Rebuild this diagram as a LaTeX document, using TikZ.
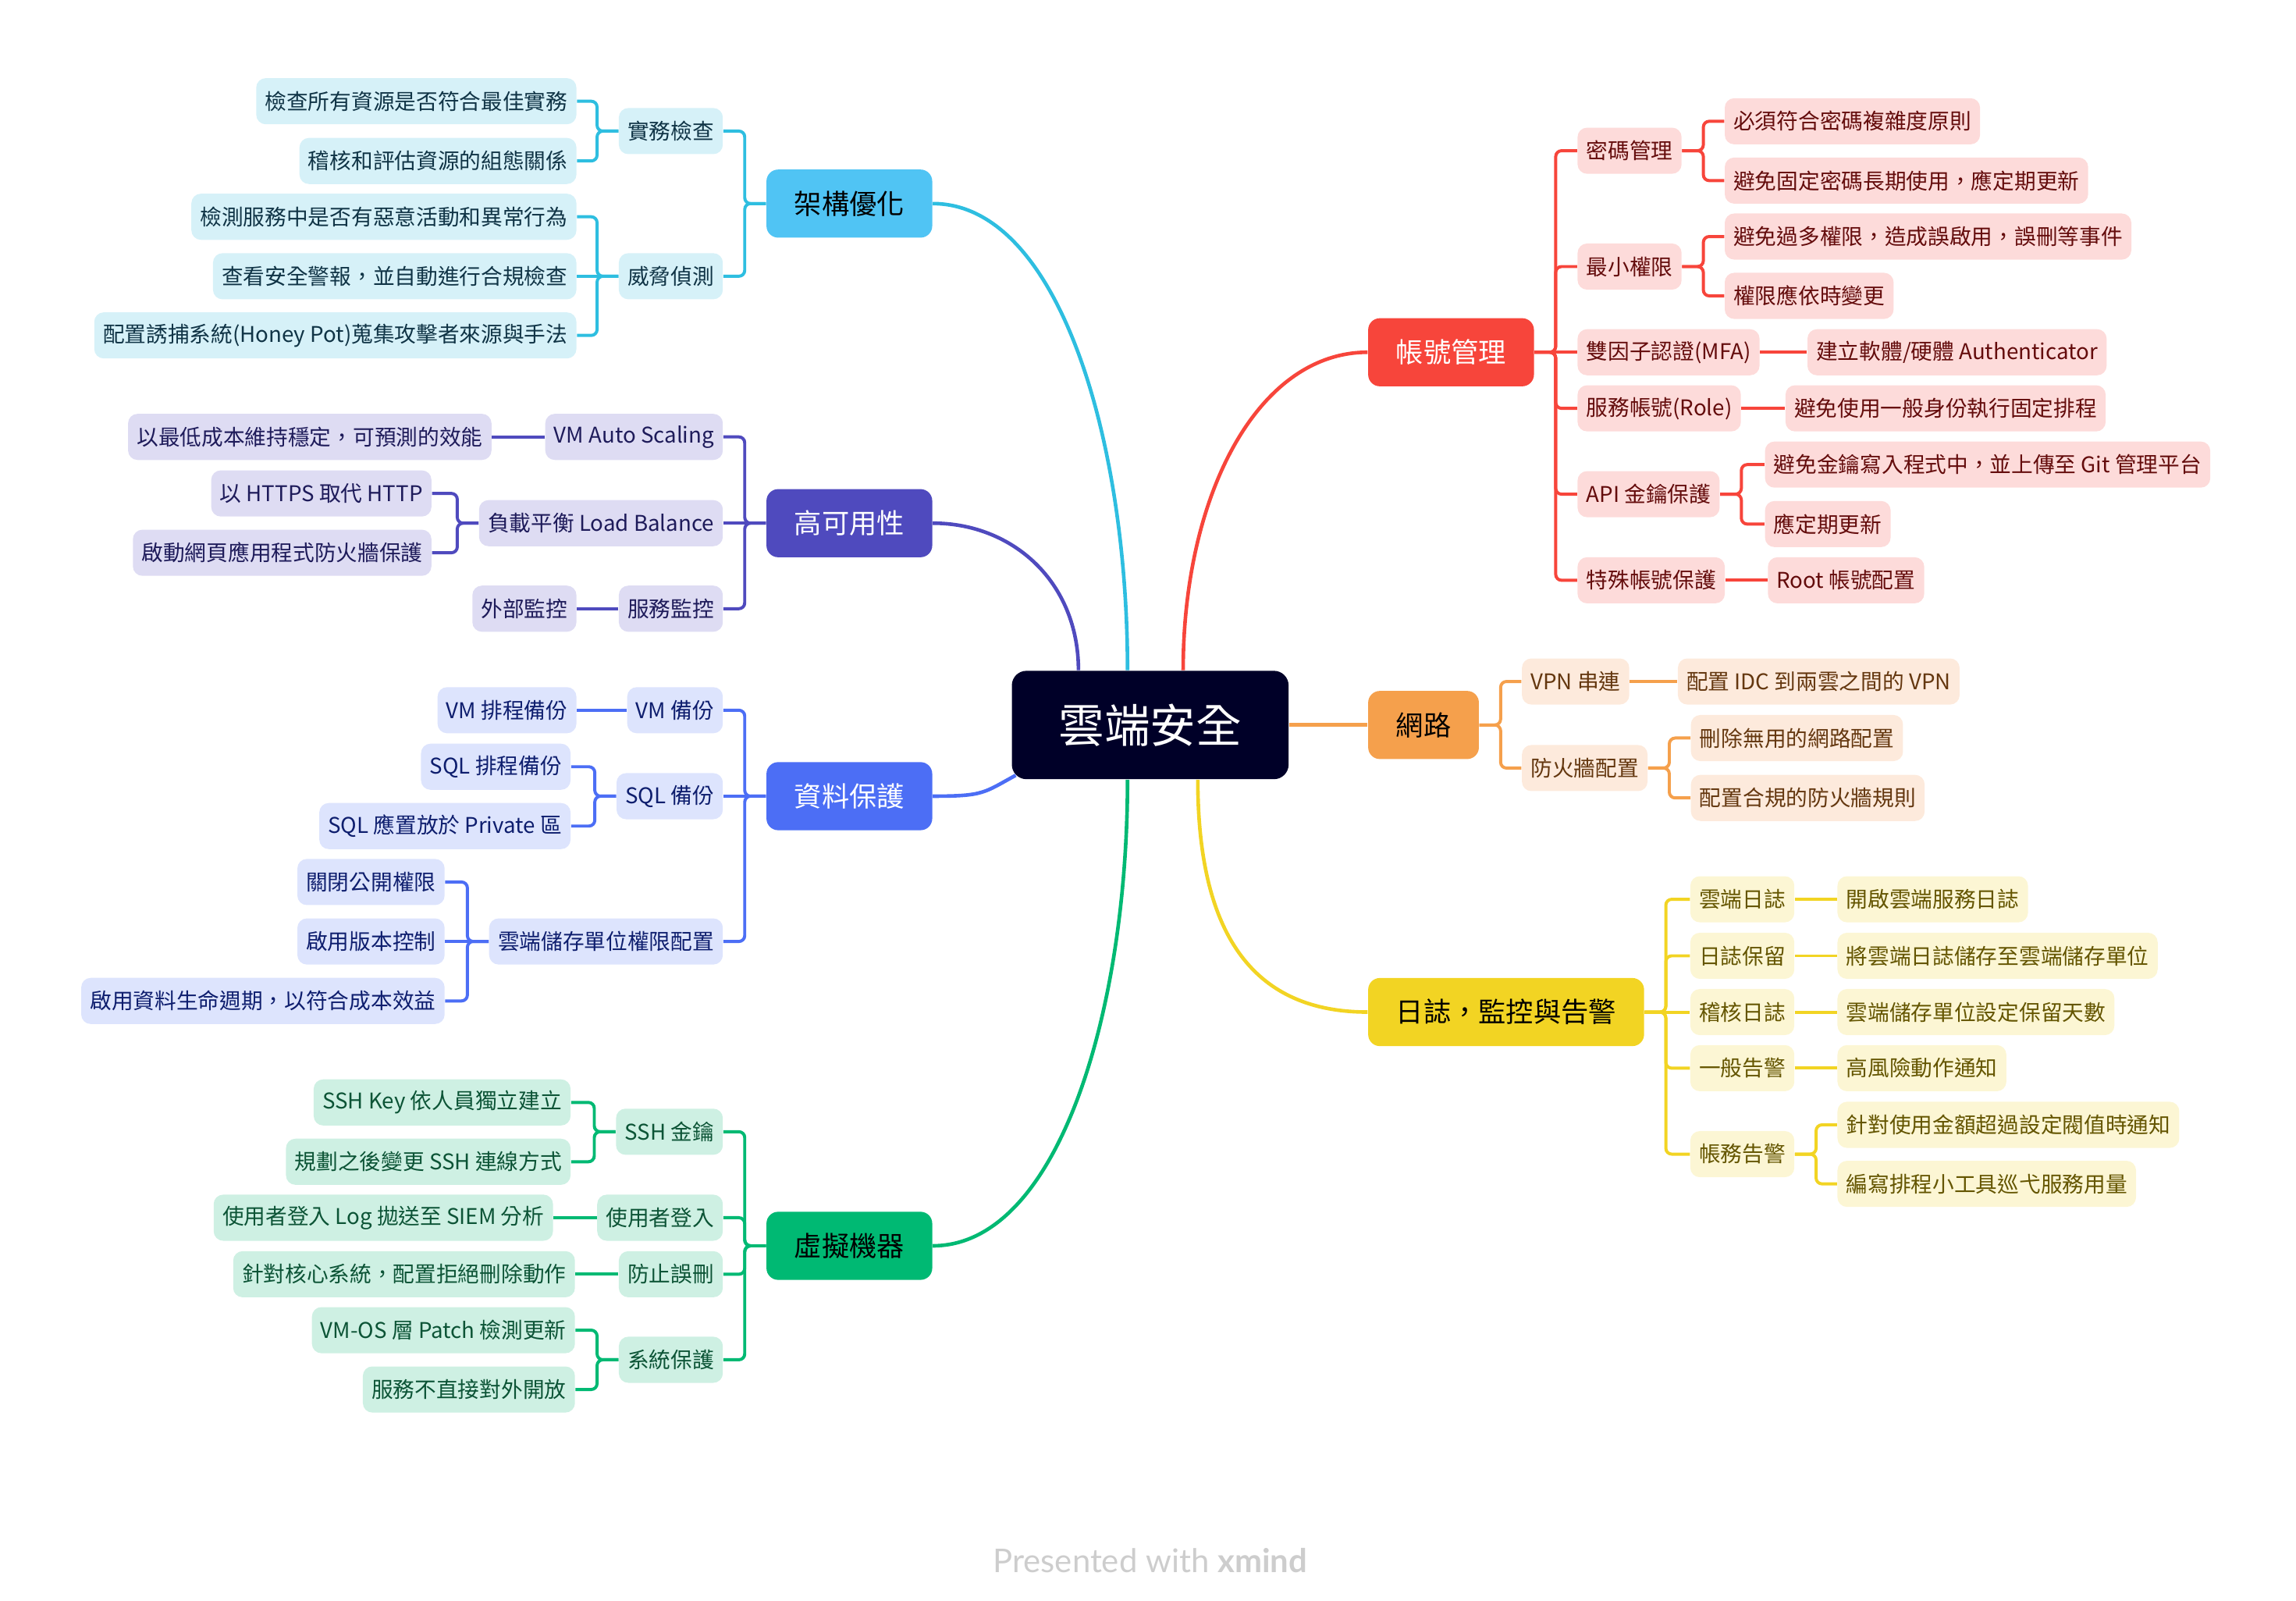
\documentclass[tikz,border=0pt]{standalone}
\usepackage{fontspec}
\setmainfont{Noto Sans CJK TC}
\newfontfamily\footfont{Lato}
\definecolor{rootC}{RGB}{0,0,40}
\definecolor{jgC}{RGB}{80,196,244}
\definecolor{jgK}{RGB}{46,190,224}
\definecolor{jgL}{RGB}{214,241,248}
\definecolor{jgT}{RGB}{16,52,70}
\definecolor{gkC}{RGB}{79,74,190}
\definecolor{gkL}{RGB}{222,220,243}
\definecolor{gkT}{RGB}{30,27,90}
\definecolor{zbC}{RGB}{76,110,245}
\definecolor{zbL}{RGB}{221,228,253}
\definecolor{zbT}{RGB}{14,30,110}
\definecolor{xnC}{RGB}{0,185,115}
\definecolor{xnL}{RGB}{206,240,227}
\definecolor{xnT}{RGB}{12,84,54}
\definecolor{zhC}{RGB}{247,69,59}
\definecolor{zhL}{RGB}{253,219,218}
\definecolor{zhT}{RGB}{100,12,12}
\definecolor{wlC}{RGB}{245,160,76}
\definecolor{wlL}{RGB}{253,234,220}
\definecolor{wlT}{RGB}{100,55,15}
\definecolor{rzC}{RGB}{242,212,35}
\definecolor{rzL}{RGB}{252,246,212}
\definecolor{rzT}{RGB}{100,85,0}
\definecolor{footC}{RGB}{205,205,205}
\usetikzlibrary{positioning}

\tikzset{
  root/.style={fill=rootC,text=white,rounded corners=2mm,minimum width=37.8mm,minimum height=14.8mm,font=\fontsize{17.8}{20}\selectfont},
  topic/.style={rounded corners=1.6mm,minimum height=9.3mm,inner xsep=3.8mm,inner ysep=0pt,font=\fontsize{10.7}{12}\selectfont},
  item/.style={rounded corners=1.3mm,minimum height=6.3mm,inner xsep=1.2mm,inner ysep=0pt,font=\fontsize{8.4}{10}\selectfont},
  link/.style={line width=1.2pt,rounded corners=0.8mm},
  curve/.style={line width=1.4pt},
  jgbox/.style={item,fill=jgL,text=jgT,anchor=east},
  gkbox/.style={item,fill=gkL,text=gkT,anchor=east},
  zbbox/.style={item,fill=zbL,text=zbT,anchor=east},
  xnbox/.style={item,fill=xnL,text=xnT,anchor=east},
  zhbox/.style={item,fill=zhL,text=zhT,anchor=west},
  wlbox/.style={item,fill=wlL,text=wlT,anchor=west},
  rzbox/.style={item,fill=rzL,text=rzT,anchor=west},
}

\begin{document}
\begin{tikzpicture}[x=0.2mm,y=-0.2mm]
  \useasboundingbox (0,0) rectangle (1568,1092.6);

  \node[root] (yun) at (785.5,495) {雲端安全};

  % left topics
  \node[topic,fill=jgC,text=black,anchor=east] (jg) at (637,139) {架構優化};
  \node[topic,fill=gkC,text=white,anchor=east] (gk) at (637,357.2) {高可用性};
  \node[topic,fill=zbC,text=white,anchor=east] (zb) at (637,543.6) {資料保護};
  \node[topic,fill=xnC,text=black,anchor=east] (xn) at (637,850.6) {虛擬機器};

  % right topics
  \node[topic,fill=zhC,text=white,anchor=west] (zh) at (934,240.5) {帳號管理};
  \node[topic,fill=wlC,text=black,anchor=west] (wl) at (934,495) {網路};
  \node[topic,fill=rzC,text=black,anchor=west] (rz) at (934,691) {日誌，監控與告警};

  % 架構優化
  \node[jgbox] (jg1) at (494,89.5) {實務檢查};
  \node[jgbox] (jg1a) at (394,69.1) {檢查所有資源是否符合最佳實務};
  \node[jgbox] (jg1b) at (394,109.9) {稽核和評估資源的組態關係};
  \node[jgbox] (jg2) at (494,188.6) {威脅偵測};
  \node[jgbox] (jg2a) at (394,148) {檢測服務中是否有惡意活動和異常行為};
  \node[jgbox] (jg2b) at (394,188.6) {查看安全警報，並自動進行合規檢查};
  \node[jgbox] (jg2c) at (394,229) {配置誘捕系統(Honey Pot)蒐集攻擊者來源與手法};

  % 高可用性
  \node[gkbox] (gk1) at (494,298.3) {VM Auto Scaling};
  \node[gkbox] (gk1a) at (336,298.3) {以最低成本維持穩定，可預測的效能};
  \node[gkbox] (gk2) at (494,357.2) {負載平衡 Load Balance};
  \node[gkbox] (gk2a) at (295,336.9) {以 HTTPS 取代 HTTP};
  \node[gkbox] (gk2b) at (295,377.4) {啟動網頁應用程式防火牆保護};
  \node[gkbox] (gk3) at (494,415.6) {服務監控};
  \node[gkbox] (gk3a) at (394,415.6) {外部監控};

  % 資料保護
  \node[zbbox] (zb1) at (494,484.9) {VM 備份};
  \node[zbbox] (zb1a) at (394,484.9) {VM 排程備份};
  \node[zbbox] (zb2) at (494,543.6) {SQL 備份};
  \node[zbbox] (zb2a) at (390,523.5) {SQL 排程備份};
  \node[zbbox] (zb2b) at (390,564) {SQL 應置放於 Private 區};
  \node[zbbox] (zb3) at (494,642.8) {雲端儲存單位權限配置};
  \node[zbbox] (zb3a) at (304,602.2) {關閉公開權限};
  \node[zbbox] (zb3b) at (304,642.8) {啟用版本控制};
  \node[zbbox] (zb3c) at (304,683.4) {啟用資料生命週期，以符合成本效益};

  % 虛擬機器
  \node[xnbox] (xn1) at (494,772.7) {SSH 金鑰};
  \node[xnbox] (xn1a) at (390,752.7) {SSH Key 依人員獨立建立};
  \node[xnbox] (xn1b) at (390,793.2) {規劃之後變更 SSH 連線方式};
  \node[xnbox] (xn2) at (494,831.4) {使用者登入};
  \node[xnbox] (xn2a) at (378,831.4) {使用者登入 Log 拋送至 SIEM 分析};
  \node[xnbox] (xn3) at (494,870) {防止誤刪};
  \node[xnbox] (xn3a) at (393,870) {針對核心系統，配置拒絕刪除動作};
  \node[xnbox] (xn4) at (494,928.4) {系統保護};
  \node[xnbox] (xn4a) at (393,908.2) {VM-OS 層 Patch 檢測更新};
  \node[xnbox] (xn4b) at (393,948.7) {服務不直接對外開放};

  % 帳號管理
  \node[zhbox] (zh1) at (1077,102.9) {密碼管理};
  \node[zhbox] (zh1a) at (1177.5,82.8) {必須符合密碼複雜度原則};
  \node[zhbox] (zh1b) at (1177.5,123.3) {避免固定密碼長期使用，應定期更新};
  \node[zhbox] (zh2) at (1077,182) {最小權限};
  \node[zhbox] (zh2a) at (1177.5,161.5) {避免過多權限，造成誤啟用，誤刪等事件};
  \node[zhbox] (zh2b) at (1177.5,202) {權限應依時變更};
  \node[zhbox] (zh3) at (1077,240.5) {雙因子認證(MFA)};
  \node[zhbox] (zh3a) at (1234,240.5) {建立軟體/硬體 Authenticator};
  \node[zhbox] (zh4) at (1077,278.8) {服務帳號(Role)};
  \node[zhbox] (zh4a) at (1219,278.8) {避免使用一般身份執行固定排程};
  \node[zhbox] (zh5) at (1077,337.4) {API 金鑰保護};
  \node[zhbox] (zh5a) at (1205,317.2) {避免金鑰寫入程式中，並上傳至 Git 管理平台};
  \node[zhbox] (zh5b) at (1205,357.8) {應定期更新};
  \node[zhbox] (zh6) at (1077,396.2) {特殊帳號保護};
  \node[zhbox] (zh6a) at (1207,396.2) {Root 帳號配置};

  % 網路
  \node[wlbox] (wl1) at (1039,465.3) {VPN 串連};
  \node[wlbox] (wl1a) at (1145.5,465.3) {配置 IDC 到兩雲之間的 VPN};
  \node[wlbox] (wl2) at (1039,524.4) {防火牆配置};
  \node[wlbox] (wl2a) at (1154.4,503.9) {刪除無用的網路配置};
  \node[wlbox] (wl2b) at (1154.4,544.8) {配置合規的防火牆規則};

  % 日誌，監控與告警
  \node[rzbox] (rz1) at (1154,614) {雲端日誌};
  \node[rzbox] (rz1a) at (1254.5,614) {開啟雲端服務日誌};
  \node[rzbox] (rz2) at (1154,652.6) {日誌保留};
  \node[rzbox] (rz2a) at (1254.5,652.6) {將雲端日誌儲存至雲端儲存單位};
  \node[rzbox] (rz3) at (1154,691) {稽核日誌};
  \node[rzbox] (rz3a) at (1254.5,691) {雲端儲存單位設定保留天數};
  \node[rzbox] (rz4) at (1154,729.3) {一般告警};
  \node[rzbox] (rz4a) at (1254.5,729.3) {高風險動作通知};
  \node[rzbox] (rz5) at (1154,788) {帳務告警};
  \node[rzbox] (rz5a) at (1254.5,768) {針對使用金額超過設定閥值時通知};
  \node[rzbox] (rz5b) at (1254.5,808.3) {編寫排程小工具巡弋服務用量};

  % curves from the root
  \draw[curve,jgK] (jg.east) .. controls +(85,0) and +(0,-160) .. ([xshift=-3.1mm]yun.north);
  \draw[curve,gkC] (gk.east) .. controls +(55,0) and +(0,-60) .. ([xshift=-9.8mm]yun.north);
  \draw[curve,zbC] (zb.east) .. controls +(35,0) and +(-22,12) .. ([xshift=0.6mm,yshift=0.6mm]yun.south west);
  \draw[curve,xnC] (xn.east) .. controls +(85,0) and +(0,160) .. ([xshift=-3.1mm]yun.south);
  \draw[curve,zhC] (zh.west) .. controls +(-75,0) and +(0,-120) .. ([xshift=4.5mm]yun.north);
  \draw[curve,wlC] (yun.east) -- (wl.west);
  \draw[curve,rzC] (rz.west) .. controls +(-75,0) and +(0,110) .. ([xshift=6.5mm]yun.south);

  % branch links, left side (elbows, then straight ones)
  \foreach \p/\c in {jg/jg1,jg/jg2,jg1/jg1a,jg1/jg1b,jg2/jg2a,jg2/jg2c}
    \draw[link,jgK] (\p.west) -- ++(-14.5,0) |- (\c.east);
  \foreach \p/\c in {gk/gk1,gk/gk3,gk2/gk2a,gk2/gk2b}
    \draw[link,gkC] (\p.west) -- ++(-14.5,0) |- (\c.east);
  \foreach \p/\c in {zb/zb1,zb/zb3,zb2/zb2a,zb2/zb2b,zb3/zb3a,zb3/zb3c}
    \draw[link,zbC] (\p.west) -- ++(-14.5,0) |- (\c.east);
  \foreach \p/\c in {xn/xn1,xn/xn2,xn/xn3,xn/xn4,xn1/xn1a,xn1/xn1b,xn4/xn4a,xn4/xn4b}
    \draw[link,xnC] (\p.west) -- ++(-14.5,0) |- (\c.east);
  \foreach \p/\c/\k in {jg2/jg2b/jgK,gk/gk2/gkC,gk1/gk1a/gkC,gk3/gk3a/gkC,zb/zb2/zbC,zb1/zb1a/zbC,zb3/zb3b/zbC,xn2/xn2a/xnC,xn3/xn3a/xnC}
    \draw[link,\k] (\p.west) -- (\c.east);

  % branch links, right side (elbows, then straight ones)
  \foreach \p/\c in {zh/zh1,zh/zh2,zh/zh4,zh/zh5,zh/zh6,zh1/zh1a,zh1/zh1b,zh2/zh2a,zh2/zh2b,zh5/zh5a,zh5/zh5b}
    \draw[link,zhC] (\p.east) -- ++(14.5,0) |- (\c.west);
  \foreach \p/\c in {wl/wl1,wl/wl2,wl2/wl2a,wl2/wl2b}
    \draw[link,wlC] (\p.east) -- ++(14.5,0) |- (\c.west);
  \foreach \p/\c in {rz/rz1,rz/rz2,rz/rz4,rz/rz5,rz5/rz5a,rz5/rz5b}
    \draw[link,rzC] (\p.east) -- ++(14.5,0) |- (\c.west);
  \foreach \p/\c/\k in {zh/zh3/zhC,zh3/zh3a/zhC,zh4/zh4a/zhC,zh6/zh6a/zhC,wl1/wl1a/wlC,rz/rz3/rzC,rz1/rz1a/rzC,rz2/rz2a/rzC,rz3/rz3a/rzC,rz4/rz4a/rzC}
    \draw[link,\k] (\p.east) -- (\c.west);

  \node[font=\footfont\fontsize{12.7}{15}\selectfont,text=footC,anchor=base] (brand) at (785.5,1073.6) {Presented with \textbf{xmind}};
\end{tikzpicture}
\end{document}
